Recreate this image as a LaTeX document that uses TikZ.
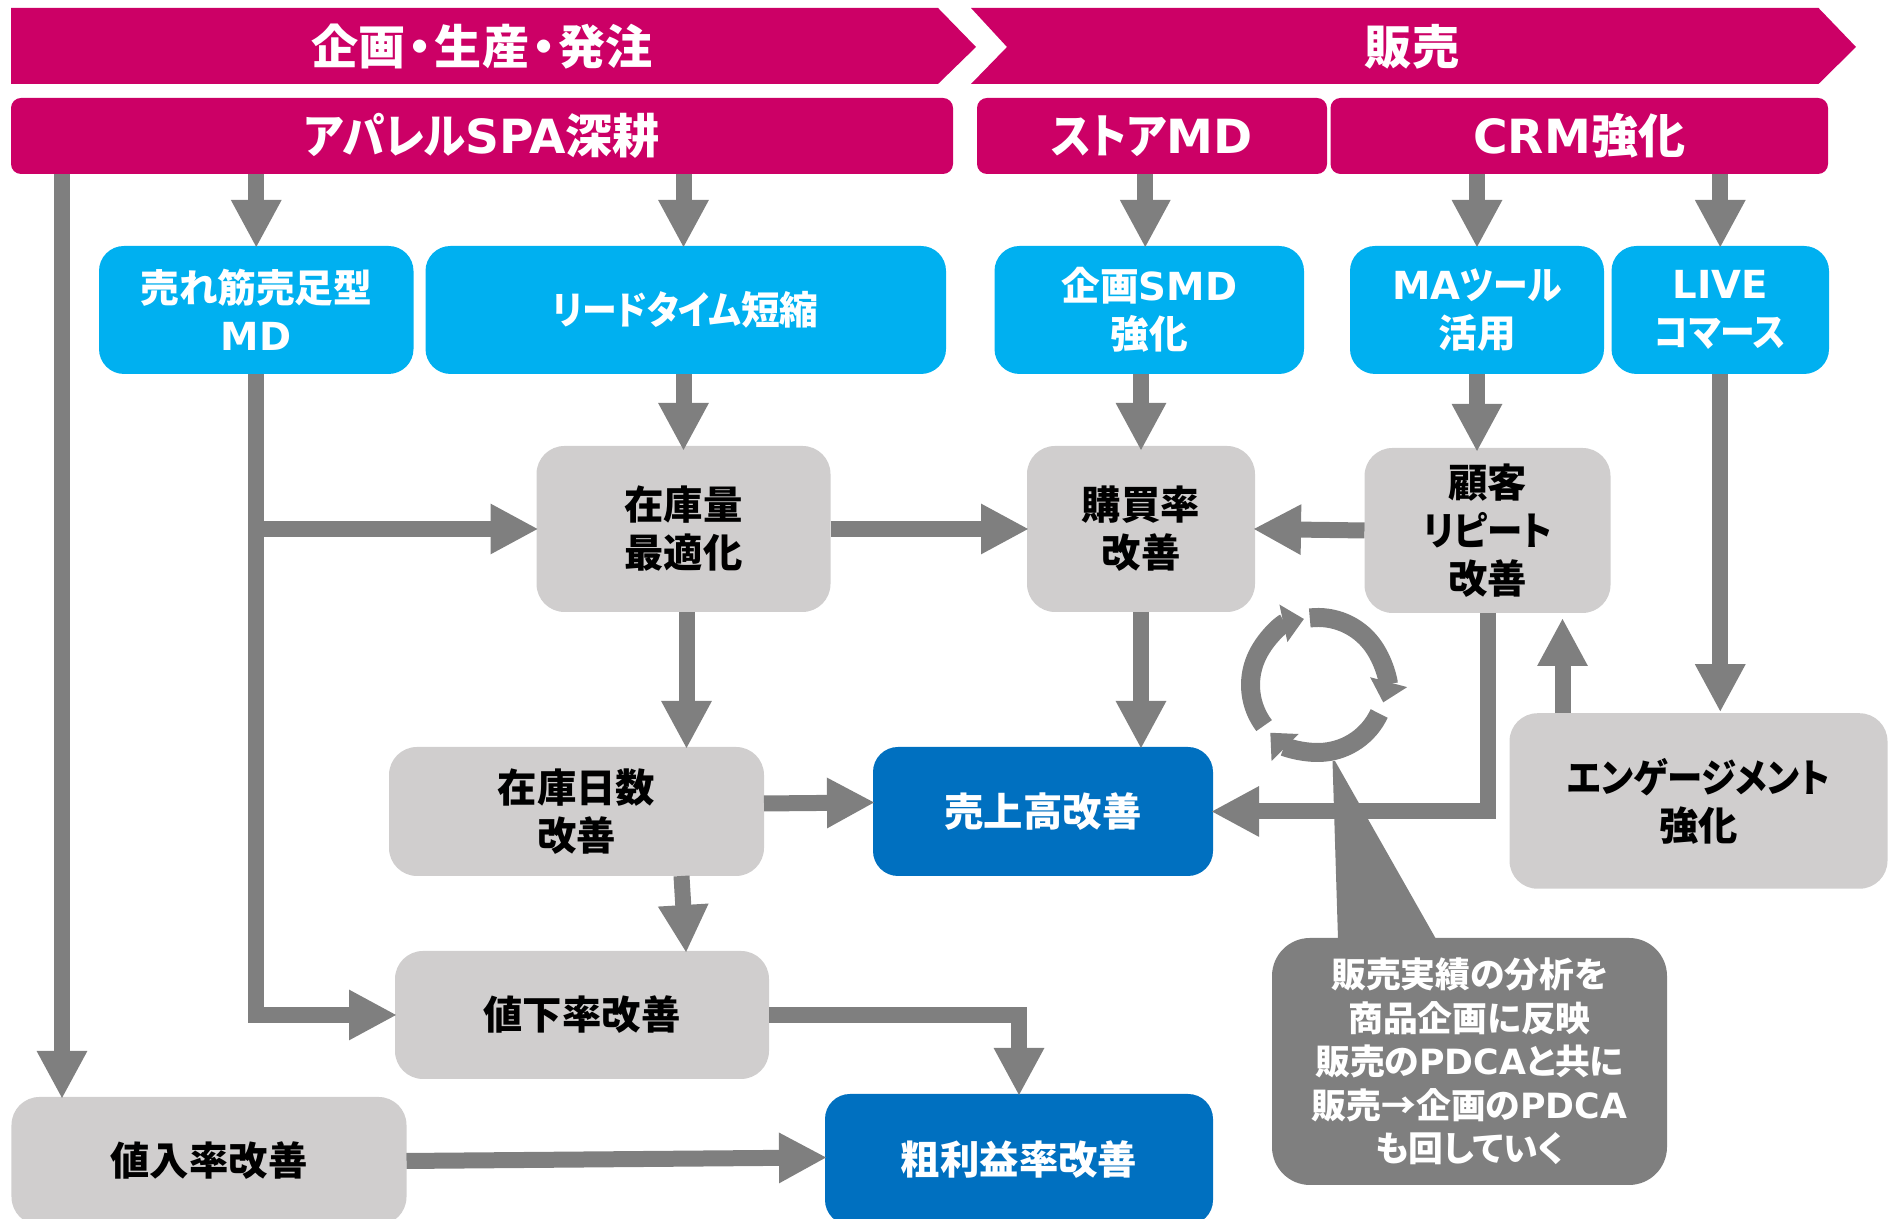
\documentclass[tikz,border=0pt]{standalone}
\usepackage{fontspec}
\usepackage{xcolor}
\setmainfont{Noto Sans CJK JP}[RawFeature=+palt]
\newfontfamily\latfont{DejaVu Sans}
\newfontfamily\kanafont{Noto Sans CJK JP}[RawFeature=+palt,FakeStretch=0.9]
\newcommand{\lat}[1]{{\latfont #1}}
\newcommand{\kana}[1]{{\kanafont #1}}
\definecolor{phasecol}{RGB}{204,0,102}
\definecolor{leverblue}{RGB}{0,176,240}
\definecolor{kpiblue}{RGB}{0,112,192}
\definecolor{boxgray}{RGB}{208,206,206}
\definecolor{flowgray}{RGB}{127,127,127}
\usetikzlibrary{arrows.meta}
\usetikzlibrary{positioning}
\usetikzlibrary{calc}
\tikzset{
  anybox/.style={rounded corners=#1, inner sep=0pt, outer sep=0pt, align=center},
  headbox/.style={anybox=0.1cm, fill=phasecol, text=white, minimum height=0.76cm, font=\fontsize{13.4pt}{16pt}\selectfont\bfseries},
  phasetext/.style={inner sep=0pt, text=white, font=\fontsize{13.4pt}{16pt}\selectfont\bfseries},
  leverbox/.style={anybox=0.25cm, fill=leverblue, text=white, minimum height=1.28cm, font=\fontsize{11pt}{13.66pt}\selectfont\bfseries},
  stepbox/.style={anybox=0.28cm, fill=boxgray, text=black, font=\fontsize{11.2pt}{13.66pt}\selectfont\bfseries},
  kpibox/.style={anybox=0.25cm, fill=kpiblue, text=white, font=\fontsize{11.2pt}{13.66pt}\selectfont\bfseries},
  notebox/.style={anybox=0.38cm, fill=flowgray, text=white, font=\fontsize{9.9pt}{12.35pt}\selectfont\bfseries},
  flow/.style={draw=flowgray, line width=0.16cm, shorten >=-0.02cm, -{Triangle[length=0.48cm,width=0.47cm]}},
  cyclearc/.style={draw=flowgray, line width=0.19cm, -{Triangle[length=0.21cm,width=0.37cm]}},
}
\begin{document}
\begin{tikzpicture}

\clip (0,0) rectangle (18.9,12.19);

% phases
\fill[phasecol] (0.11,12.11) -- (9.38,12.11) -- (9.76,11.72) -- (9.38,11.35) -- (0.11,11.35) -- cycle;
\fill[phasecol] (9.71,12.11) -- (18.185,12.11) -- (18.56,11.72) -- (18.185,11.35) -- (9.71,11.35) -- (10.07,11.72) -- cycle;
\node[phasetext] (plan) at (4.82,11.72) {企画\hspace{0.06em}・\hspace{0.06em}生産\hspace{0.06em}・\hspace{0.06em}発注};
\node[phasetext] (sell) at (14.12,11.72) {販売};

% themes
\node[headbox, minimum width=9.42cm] (spa) at (4.82,10.83) {\kana{アパレル}\lat{SPA}深耕};
\node[headbox, minimum width=3.50cm] (store) at (11.52,10.83) {\kana{ストア}\lat{MD}};
\node[headbox, minimum width=4.975cm] (crm) at (15.7925,10.83) {\lat{CRM}強化};

% levers
\node[leverbox, minimum width=3.145cm] (sellmd) at (2.5625,9.09) {売れ筋売足型\\\lat{MD}};
\node[leverbox, minimum width=5.205cm] (lead) at (6.8575,9.09) {\kana{リードタイム}短縮};
\node[leverbox, minimum width=3.095cm] (smd) at (11.4925,9.09) {企画\lat{SMD}\\強化};
\node[leverbox, minimum width=2.54cm] (ma) at (14.77,9.09) {\lat{MA}\kana{ツール}\\活用};
\node[leverbox, minimum width=2.175cm] (live) at (17.2025,9.09) {\lat{LIVE}\\\kana{コマース}};

% steps
\node[stepbox, minimum width=2.94cm, minimum height=1.66cm] (stock) at (6.835,6.90) {在庫量\\最適化};
\node[stepbox, minimum width=2.28cm, minimum height=1.66cm] (rate) at (11.41,6.90) {購買率\\改善};
\node[stepbox, minimum width=2.46cm, minimum height=1.65cm] (again) at (14.875,6.885) {顧客\\\kana{リピート}\\改善};
\node[stepbox, minimum width=3.75cm, minimum height=1.29cm] (days) at (5.765,4.075) {在庫日数\\改善};
\node[stepbox, minimum width=3.78cm, minimum height=1.755cm] (eng) at (16.985,4.18) {\kana{エンゲージメント}\\強化};
\node[stepbox, minimum width=3.74cm, minimum height=1.28cm] (cut) at (5.82,2.04) {値下率改善};
\node[stepbox, minimum width=3.95cm, minimum height=1.28cm] (cost) at (2.09,0.58) {値入率改善};

% results
\node[kpibox, minimum width=3.40cm, minimum height=1.29cm] (sales) at (10.43,4.075) {売上高改善};
\node[kpibox, minimum width=3.88cm, minimum height=1.31cm] (gross) at (10.19,0.595) {粗利益率改善};

\coordinate (leftrun) at (0.62,5);

% flows from the themes
\draw[flow] (leftrun |- spa.south) -- (leftrun |- cost.north);
\draw[flow] (spa.south -| sellmd.north) -- (sellmd.north);
\draw[flow] (spa.south -| stock.north) -- (stock.north |- lead.north);
\draw[flow] ([xshift=-0.04cm]smd.north |- store.south) -- ([xshift=-0.04cm]smd.north);
\draw[flow] (crm.south -| ma.north) -- (ma.north);
\draw[flow] (crm.south -| live.north) -- (live.north);

% flows between the boxes
\draw[flow] (sellmd.south) |- (cut.west);
\draw[flow] (sellmd.south |- stock.west) -- (stock.west);
\draw[flow] (stock.north |- lead.south) -- ([yshift=-0.03cm]stock.north);
\draw[flow] (rate.north |- smd.south) -- ([yshift=-0.03cm]rate.north);
\draw[flow] (ma.south) -- ([yshift=-0.02cm]ma.south |- again.north);
\draw[flow] (live.south) -- ([yshift=0.03cm]live.south |- eng.north);
\draw[flow] (15.625,0 |- eng.north) -- (15.625,5.99);
\draw[flow] (stock.east) -- (rate.west);
\draw[flow] (again.west) -- (rate.east);
\draw[flow] ([xshift=0.03cm]stock.south) -- ([xshift=0.03cm]stock.south |- days.north);
\draw[flow] (rate.south) -- (rate.south |- sales.north);
\draw[flow] ([yshift=0.08cm]days.east) -- ([yshift=0.09cm]sales.west);
\draw[flow] (again.south) |- (sales.east);
\draw[flow] ([xshift=1.05cm]days.south) -- ([xshift=1.04cm]cut.north);
\draw[flow] (cut.east) -| (gross.north);
\draw[flow] (cost.east) -- ([yshift=0.02cm]gross.west);

% cycle
\coordinate (turn) at (13.18,5.34);
\draw[cyclearc] (turn) ++(97:0.675) arc (97:-15:0.675);
\draw[cyclearc] (turn) ++(-25:0.675) arc (-25:-135:0.675);
\draw[cyclearc] (turn) ++(217:0.675) arc (217:102:0.675);

% note
\fill[flowgray] (13.325,4.58) -- (13.35,4.58) -- (14.36,2.80) -- (13.38,2.80) -- cycle;
\node[notebox, minimum width=3.95cm, minimum height=2.47cm] (note) at (14.695,1.575) {販売実績の分析を\\商品企画に反映\\販売の\lat{PDCA}と共に\\販売→企画の\lat{PDCA}\\も回していく};

\end{tikzpicture}
\end{document}
